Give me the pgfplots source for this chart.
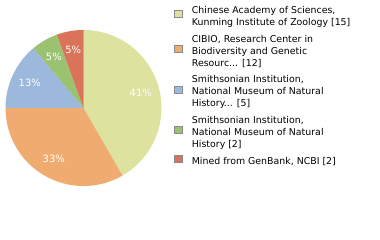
\documentclass[border=0pt]{standalone}
\usepackage{pgfplots}
\pgfplotsset{compat=1.18}
\usepackage{pgfplotstable}
\usepackage{fontspec}
\setmainfont{DejaVu Sans}
\definecolor{cA}{HTML}{DDE29F}
\definecolor{cB}{HTML}{EFAB70}
\definecolor{cC}{HTML}{9CB8DC}
\definecolor{cD}{HTML}{9BC271}
\definecolor{cE}{HTML}{DA735A}
\definecolor{lgray}{HTML}{8A8A8A}

\pgfplotstableread{
n count
1 15
2 12
3 5
4 2
5 2
}\piedata

\def\tot{0}
\pgfplotsforeachungrouped \i in {0,...,4}{%
  \pgfplotstablegetelem{\i}{count}\of\piedata
  \pgfmathsetmacro\tot{\tot+\pgfplotsretval}}
\def\acc{90}
\pgfplotsforeachungrouped \i in {0,...,4}{%
  \pgfplotstablegetelem{\i}{count}\of\piedata
  \pgfmathsetmacro\sweep{360*\pgfplotsretval/\tot}%
  \pgfmathtruncatemacro\pct{100*\pgfplotsretval/\tot}%
  \expandafter\xdef\csname pieS\i\endcsname{\acc}%
  \pgfmathsetmacro\mid{\acc-\sweep/2}%
  \expandafter\xdef\csname pieM\i\endcsname{\mid}%
  \pgfmathsetmacro\acc{\acc-\sweep}%
  \expandafter\xdef\csname pieE\i\endcsname{\acc}%
  \expandafter\xdef\csname pieP\i\endcsname{\pct}%
}

\newcommand\slice[2]{%
  \edef\temp{\noexpand\fill[#2] (axis cs:0,0) -- (axis cs:{cos(\csname pieS#1\endcsname)},{sin(\csname pieS#1\endcsname)}) arc[start angle=\csname pieS#1\endcsname, end angle=\csname pieE#1\endcsname, radius=78pt] -- cycle;}\temp}
\newcommand\plabel[1]{%
  \edef\temp{\noexpand\node[text=white, font=\noexpand\fontsize{10}{11}\noexpand\selectfont] at (axis cs:{0.76*cos(\csname pieM#1\endcsname)},{0.76*sin(\csname pieM#1\endcsname)}) {\csname pieP#1\endcsname\noexpand\%};}\temp}

\begin{document}
\begin{tikzpicture}
\useasboundingbox (0,0) rectangle (380pt,240pt);
\begin{axis}[
  hide axis, x=78pt, y=78pt,
  xmin=-1, xmax=1, ymin=-1, ymax=1,
  anchor=center, at={(83.5pt,132pt)}, clip=false,
  legend cell align=left,
  legend image code/.code={\draw[#1, line width=0.7pt] (0pt,-1pt) rectangle (8pt,6pt);},
  legend style={draw=none, fill=none, inner sep=0pt,
    at={(axis description cs:1.08,1.165)}, anchor=north west,
    font=\fontsize{9.4}{12}\selectfont,
    cells={align=left}, row sep=4pt,
    /tikz/every odd column/.append style={column sep=7pt}},
]
\slice{0}{cA}\slice{1}{cB}\slice{2}{cC}\slice{3}{cD}\slice{4}{cE}
\plabel{0}\plabel{1}\plabel{2}\plabel{3}\plabel{4}
\addlegendimage{fill=cA, draw=lgray}
\addlegendentry{Chinese Academy of Sciences,\\Kunming Institute of Zoology [15]}
\addlegendimage{fill=cB, draw=lgray}
\addlegendentry{CIBIO, Research Center in\\Biodiversity and Genetic\\Resourc... [12]}
\addlegendimage{fill=cC, draw=lgray}
\addlegendentry{Smithsonian Institution,\\National Museum of Natural\\History... [5]}
\addlegendimage{fill=cD, draw=lgray}
\addlegendentry{Smithsonian Institution,\\National Museum of Natural\\History [2]}
\addlegendimage{fill=cE, draw=lgray}
\addlegendentry{Mined from GenBank, NCBI [2]}
\end{axis}
\end{tikzpicture}
\end{document}
